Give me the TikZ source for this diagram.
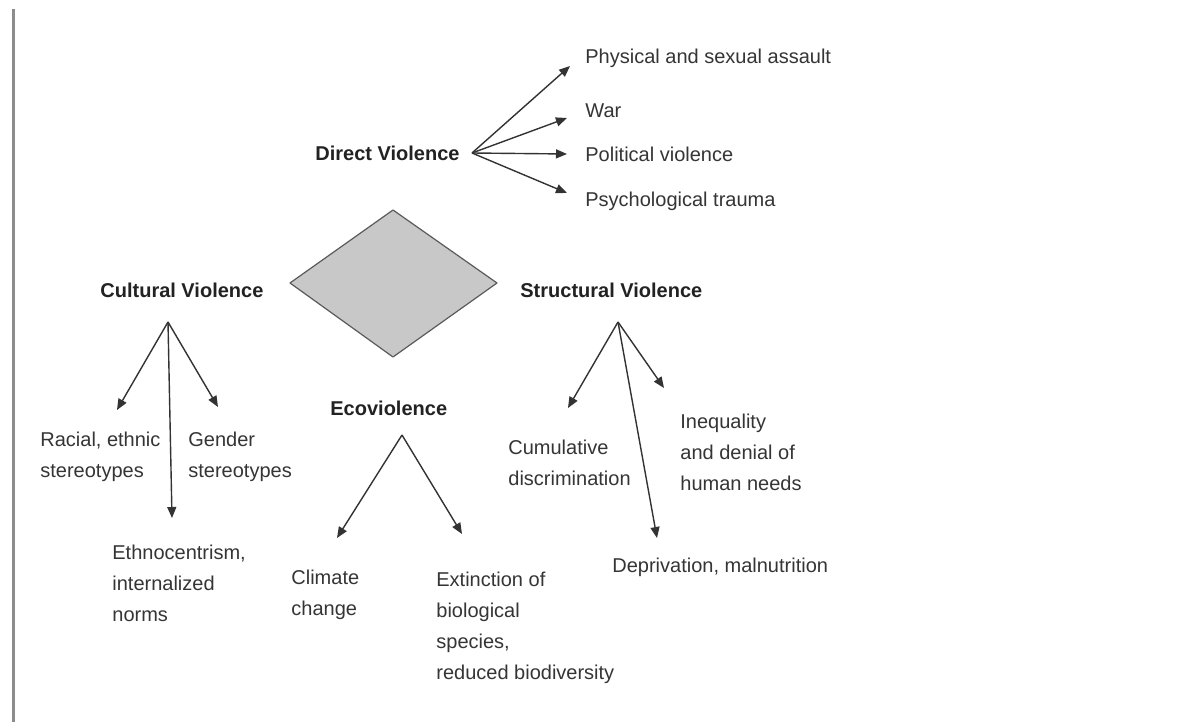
\documentclass[tikz,border=0pt]{standalone}
\usepackage{fontspec}
\setmainfont{Liberation Sans}
\usetikzlibrary{arrows.meta}
\definecolor{txt}{HTML}{353535}
\definecolor{ttl}{HTML}{222222}
\definecolor{arr}{HTML}{333333}
\definecolor{dfill}{HTML}{C8C8C8}
\definecolor{dline}{HTML}{5A5A5A}
\definecolor{rule}{HTML}{8C8C8C}
\begin{document}
\begin{tikzpicture}[x=0.5pt,y=-0.5pt,
  lbl/.style={inner sep=0pt, text=txt, font=\fontsize{10}{15.5}\selectfont, align=left},
  ttlbl/.style={inner sep=0pt, text=ttl, font=\fontsize{10}{15.5}\selectfont\bfseries},
  conn/.style={draw=arr, line width=0.7pt, -{Triangle[length=5.5pt,width=4.5pt]}}]
\useasboundingbox[fill=white] (0,0) rectangle (1190,722);
% left rule
\coordinate (r1) at (13,9);
\coordinate (r2) at (13,722);
\draw[rule, line width=1.5pt] (r1) -- (r2);
% diamond
\coordinate (dt) at (393,210);
\coordinate (dl) at (290,283);
\coordinate (db) at (393,357);
\coordinate (dr) at (497,283);
\draw[fill=dfill, draw=dline, line width=0.6pt, line join=round] (dt) -- (dr) -- (db) -- (dl) -- cycle;
% titles
\node[ttlbl, anchor=west] (dv) at (315,153) {Direct Violence};
\node[ttlbl, anchor=west] (cv) at (100,290) {Cultural Violence};
\node[ttlbl, anchor=west] (sv) at (520,290) {Structural Violence};
\node[ttlbl, anchor=west] (eco) at (330,408) {Ecoviolence};
% direct
\node[lbl, anchor=west] (pa) at (585,58) {Physical and sexual assault};
\node[lbl, anchor=west] (war) at (585,111) {War};
\node[lbl, anchor=west] (pol) at (585,154) {Political violence};
\node[lbl, anchor=west] (psy) at (585,201) {Psychological trauma};
% cultural
\node[lbl, anchor=north west] (rac) at (40,432) {Racial, ethnic\\stereotypes};
\node[lbl, anchor=north west] (gen) at (188,432) {Gender\\stereotypes};
\node[lbl, anchor=north west] (eth) at (112,545) {Ethnocentrism,\\internalized\\norms};
% eco
\node[lbl, anchor=north west] (cli) at (291,570) {Climate\\change};
\node[lbl, anchor=north west] (ext) at (436,572) {Extinction of\\biological\\species,\\reduced biodiversity};
% structural
\node[lbl, anchor=north west] (cum) at (508,440) {Cumulative\\discrimination};
\node[lbl, anchor=north west] (ineq) at (680,414) {Inequality\\and denial of\\human needs};
\node[lbl, anchor=west] (dep) at (612,567) {Deprivation, malnutrition};
% connector coordinates
\coordinate (dvo) at (472,153);
\coordinate (tpa) at (570,66);
\coordinate (twar) at (567,118);
\coordinate (tpol) at (567,154);
\coordinate (tpsy) at (567,193);
\coordinate (cvo) at (168,322);
\coordinate (trac) at (117,410);
\coordinate (tgen) at (218,407);
\coordinate (teth) at (172,518);
\coordinate (ecoo) at (402,435);
\coordinate (tcli) at (337,538);
\coordinate (text) at (462,534);
\coordinate (svo) at (618,322);
\coordinate (tcum) at (568,408);
\coordinate (tineq) at (664,388);
\coordinate (tdep) at (657,538);
\draw[conn] (dvo) -- (tpa);
\draw[conn] (dvo) -- (twar);
\draw[conn] (dvo) -- (tpol);
\draw[conn] (dvo) -- (tpsy);
\draw[conn] (cvo) -- (trac);
\draw[conn] (cvo) -- (tgen);
\draw[conn] (cvo) -- (teth);
\draw[conn] (ecoo) -- (tcli);
\draw[conn] (ecoo) -- (text);
\draw[conn] (svo) -- (tcum);
\draw[conn] (svo) -- (tineq);
\draw[conn] (svo) -- (tdep);
\end{tikzpicture}
\end{document}
